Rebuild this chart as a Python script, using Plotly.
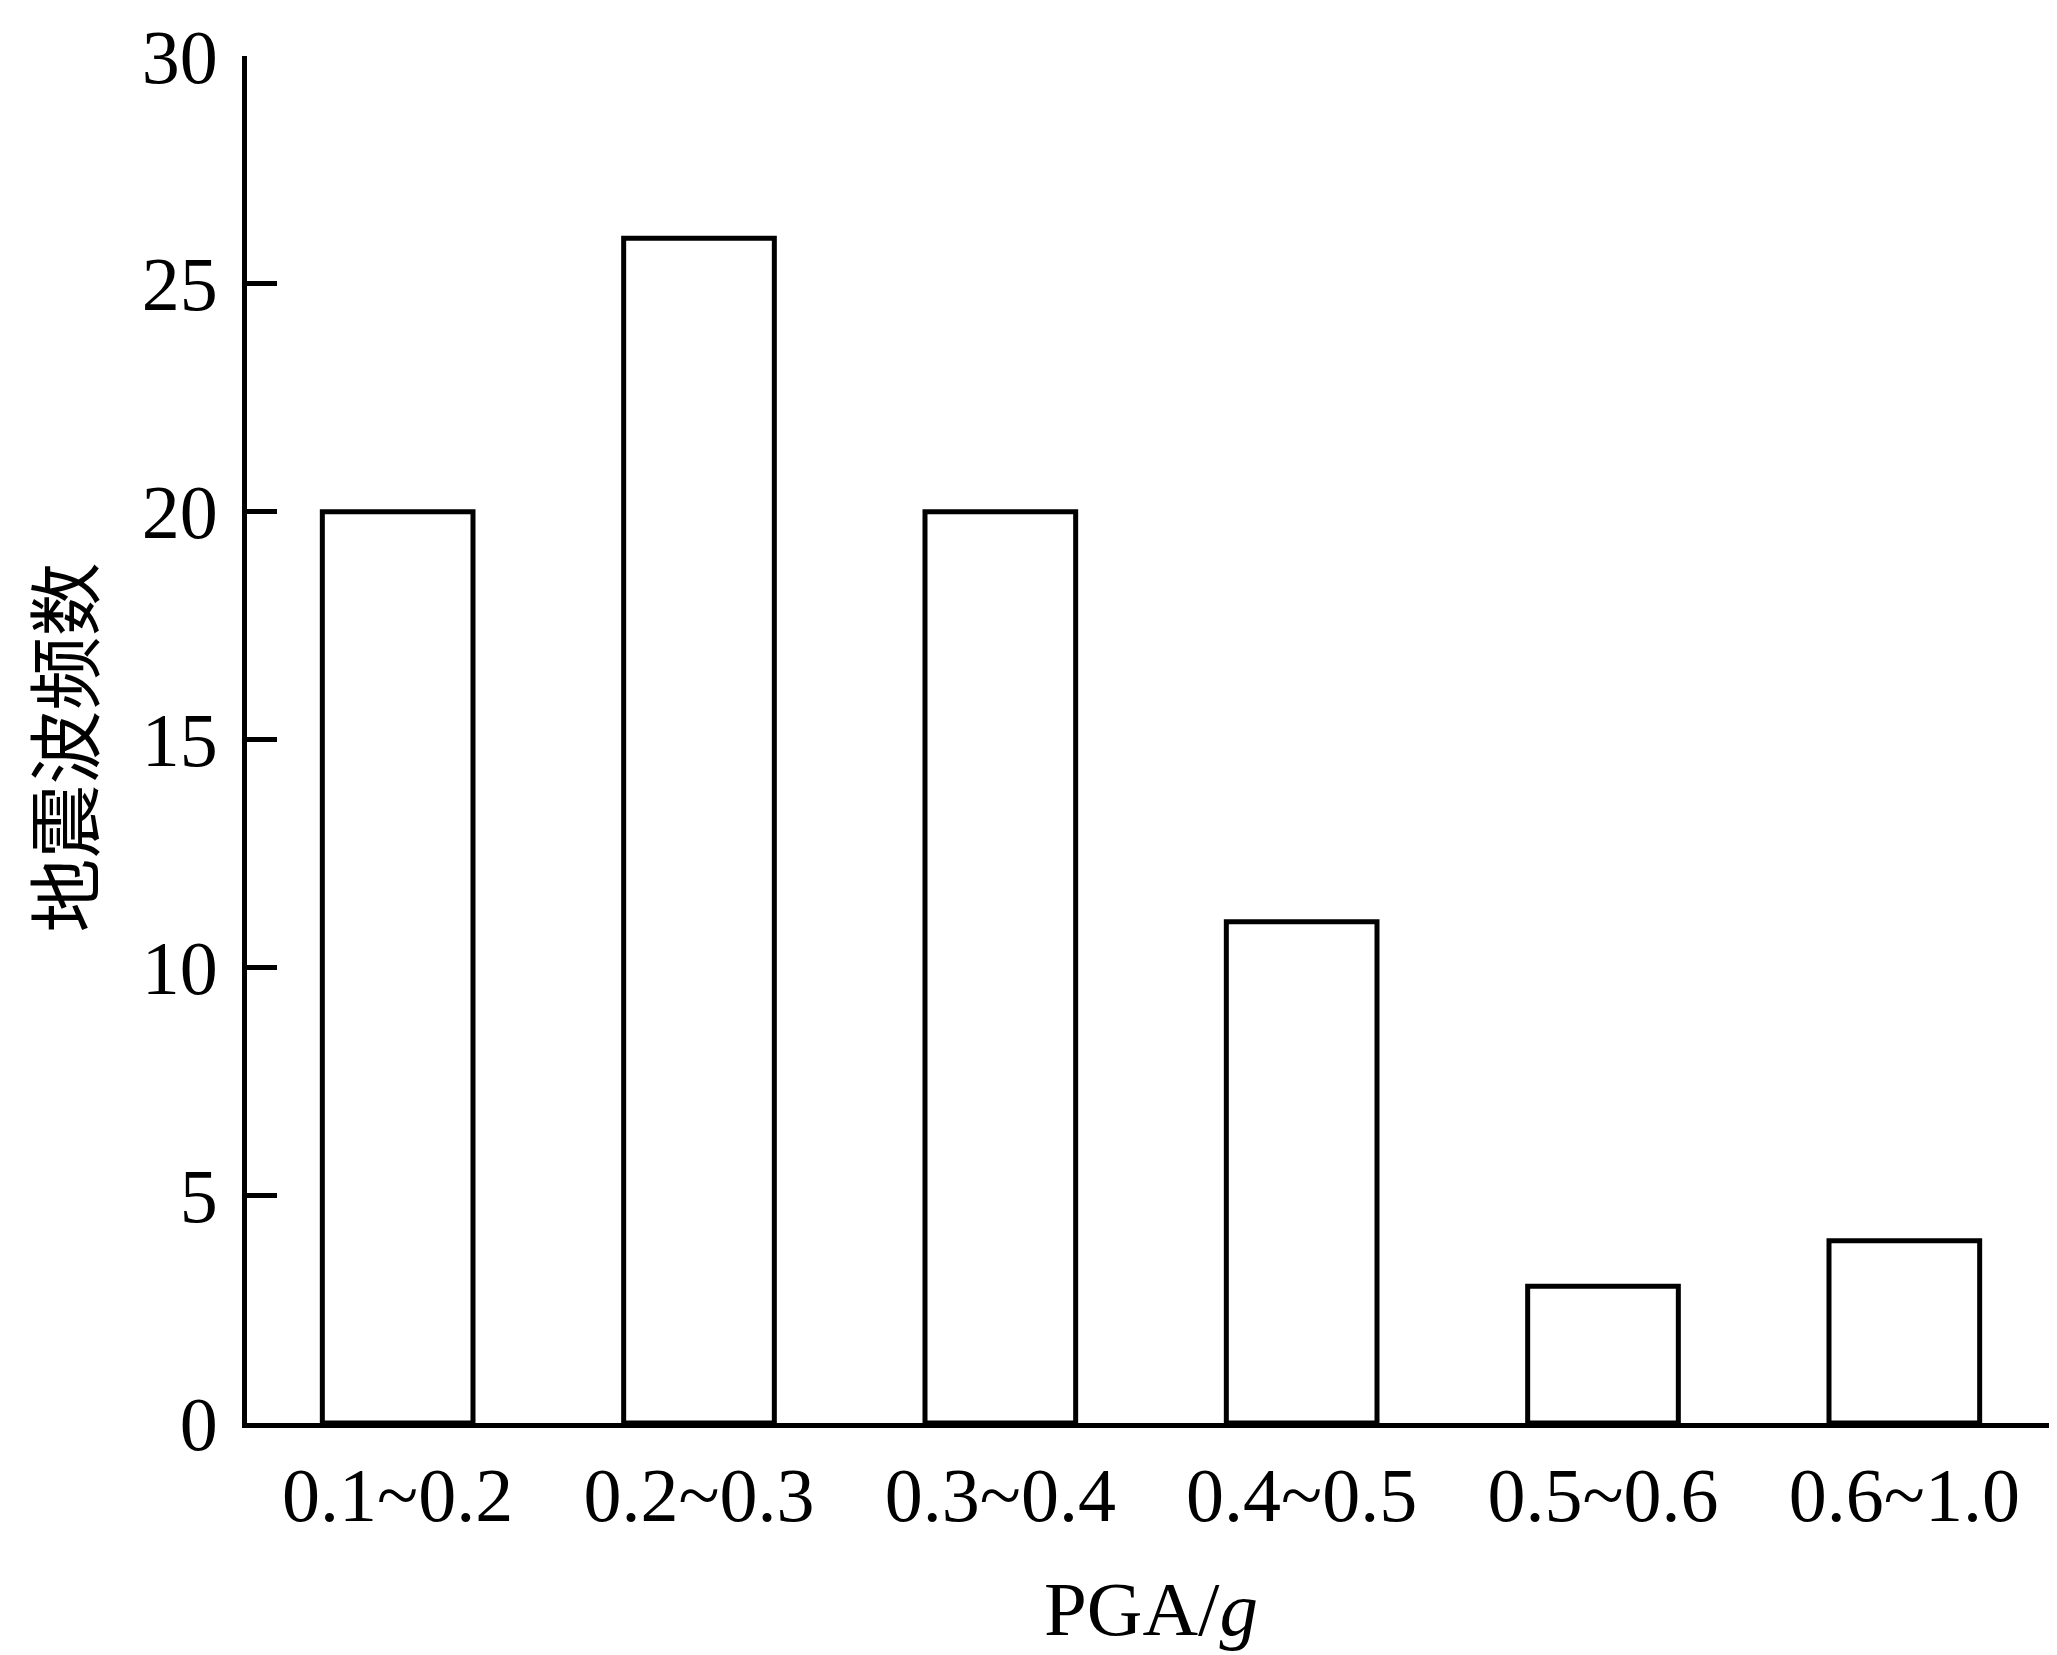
import plotly.graph_objects as go

categories = ["0.1~0.2", "0.2~0.3", "0.3~0.4", "0.4~0.5", "0.5~0.6", "0.6~1.0"]
counts = [20, 26, 20, 11, 3, 4]
y_ticks = [0, 5, 10, 15, 20, 25, 30]
y_title = "地震波频数"

serif = "Liberation Serif, Times New Roman, serif"

fig = go.Figure()
fig.add_trace(go.Bar(
    x=categories, y=counts,
    marker=dict(color="white", line=dict(color="black", width=5)),
    width=0.5,
))

fig.update_layout(
    width=2049, height=1647,
    margin=dict(l=239, r=2, t=48, b=232),
    plot_bgcolor="white", paper_bgcolor="white",
    showlegend=False,
    bargap=0.5,
)
fig.update_xaxes(
    type="category", range=[-0.5, 5.5], automargin=False,
    showline=True, linecolor="black", linewidth=5,
    ticks="", showgrid=False, zeroline=False,
    tickfont=dict(family=serif, size=76, color="black"),
    ticklabelstandoff=2,
    title=dict(text="PGA/<i>g</i>", font=dict(family=serif, size=77, color="black"), standoff=46),
)
fig.update_yaxes(
    range=[0, 30], tickvals=y_ticks, automargin=False,
    showline=True, linecolor="black", linewidth=5,
    ticks="inside", ticklen=30, tickwidth=5, tickcolor="black",
    showgrid=False, zeroline=False,
    tickfont=dict(family=serif, size=76, color="black"),
    ticklabelstandoff=9,
)
fig.add_annotation(
    text=y_title, xref="paper", yref="paper", x=-0.103, y=0.494,
    xanchor="center", yanchor="middle", textangle=-90, showarrow=False,
    font=dict(family="Noto Sans CJK SC", size=74, color="black"),
)

fig.write_html("out.html")
